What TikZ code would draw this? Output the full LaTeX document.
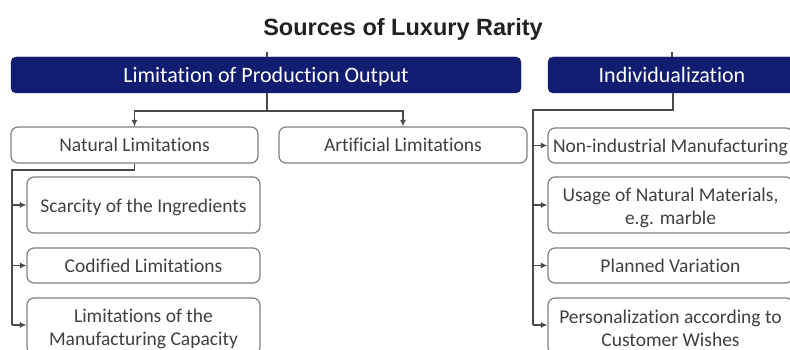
\documentclass[tikz,border=0pt]{standalone}
\usepackage{fontspec}
\setmainfont{Carlito}[Ligatures=NoCommon]
\newfontfamily\titlefont{Liberation Sans}
\usetikzlibrary{arrows.meta,positioning}
\definecolor{navy}{RGB}{16,29,112}
\definecolor{boxgray}{RGB}{128,128,128}
\definecolor{txtgray}{RGB}{64,64,64}
\definecolor{linegray}{RGB}{75,75,75}
\tikzset{
  hdr/.style={draw=navy, fill=navy, rounded corners=5pt, text=white, inner sep=0pt,
    minimum height=36pt, text height=15pt, text depth=0pt, font=\fontsize{22}{26}\selectfont},
  itembox/.style={draw=boxgray, line width=1.2pt, rounded corners=7pt, text=txtgray,
    inner sep=0pt, align=center, font=\fontsize{19.5}{23}\selectfont},
  oneline/.style={itembox, text height=14pt, text depth=0pt},
  twoline/.style={itembox, minimum height=56pt, text height=42pt},
  conn/.style={draw=linegray, line width=1.1pt},
  arr/.style={conn, -{Latex[length=6.5pt,width=6pt]}},
}
\begin{document}
\begin{tikzpicture}[x=1pt,y=-1pt]
\useasboundingbox (0,0) rectangle (790,350);
\clip (0,0) rectangle (790,350);
\fill[white] (0,0) rectangle (790,350);

\node[font=\titlefont\fontsize{23.5}{28}\selectfont\bfseries, text=black!87] (title) at (403,29) {Sources of Luxury Rarity};

\node[hdr, minimum width=510pt] (hdrA) at (266,75) {Limitation of Production Output};
\node[hdr, minimum width=248pt] (hdrB) at (672,75) {Individualization};

\node[oneline, minimum width=247pt, minimum height=36pt] (nat) at (134.5,145) {Natural Limitations};
\node[oneline, minimum width=248pt, minimum height=36pt] (art) at (403,145) {Artificial Limitations};

\node[oneline, minimum width=233pt, minimum height=56pt] (sca) at (143.5,205) {Scarcity of the Ingredients};
\node[oneline, minimum width=233pt, minimum height=35pt] (cod) at (143.5,265.5) {Codified Limitations};
\node[twoline, minimum width=233pt] (cap) at (143.5,326) {Limitations of the\\Manufacturing Capacity};

\node[oneline, minimum width=245pt, minimum height=35pt] (non) at (670.5,145.5) {Non-industrial Manufacturing};
\node[twoline, minimum width=245pt] (usa) at (670.5,205) {Usage of Natural Materials,\\e.g. marble};
\node[oneline, minimum width=245pt, minimum height=35pt] (pla) at (670.5,265.5) {Planned Variation};
\node[twoline, minimum width=245pt] (per) at (670.5,326) {Personalization according to\\Customer Wishes};

% stubs above headers
\coordinate (stubA) at (267,52);
\coordinate (stubB) at (672,52);
\draw[conn] (stubA) -- (stubA |- hdrA.north);
\draw[conn] (stubB) -- (stubB |- hdrB.north);

% left top branch
\coordinate (jA) at (267,111);
\draw[conn] (jA |- hdrA.south) -- (jA);
\draw[arr] (jA) -| (nat.north);
\draw[arr] (jA) -| (art.north);

% natural limitations sub branch
\coordinate (jN) at (134.5,170);
\coordinate (tL) at (12,170);
\coordinate (bL) at (12,325);
\draw[conn] (nat.south) -- (jN) -- (tL) -- (bL);
\draw[arr] (tL |- sca.west) -- (sca.west);
\draw[arr] (tL |- cod.west) -- (cod.west);
\draw[arr] (bL) -- (bL -| cap.west);

% individualization branch
\coordinate (jB) at (673,110);
\coordinate (tR) at (533,110);
\coordinate (bR) at (533,325);
\draw[conn] (jB |- hdrB.south) -- (jB) -- (tR) -- (bR);
\draw[arr] (tR |- non.west) -- (non.west);
\draw[arr] (tR |- usa.west) -- (usa.west);
\draw[arr] (tR |- pla.west) -- (pla.west);
\draw[arr] (bR) -- (bR -| per.west);
\end{tikzpicture}
\end{document}
